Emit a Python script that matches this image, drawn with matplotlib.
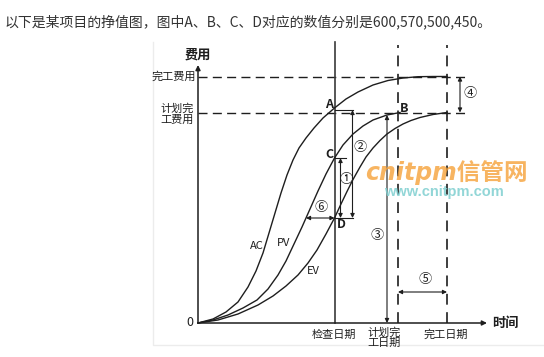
import matplotlib
matplotlib.use("Agg")
import matplotlib.pyplot as plt

plt.rcParams['font.family'] = ['Noto Sans CJK SC', 'DejaVu Sans']

# ---- data (schematic units: time / cost) ----
ac_t = [0, 15, 28, 40, 50, 58, 65, 71, 77, 83, 89, 95, 101, 108, 116, 125, 136.5, 148, 160, 175, 190, 205, 220, 235, 249]
ac_c = [0, 4, 11, 21, 36, 52, 70, 90, 110, 130, 148, 163, 175, 185, 195, 205, 215, 224, 231, 238, 242.5, 245, 246.3, 246.5, 246.5]

pv_t = [0, 15, 30, 45, 59, 70, 80, 88, 96, 104, 112, 120, 128, 136.5, 145, 155, 165, 175, 189, 202]
pv_c = [0, 3, 8, 15, 23, 34, 48, 62, 79, 96, 114, 132, 149, 165, 178, 189, 197, 203, 208, 210.5]

ev_t = [0, 20, 40, 60, 75, 88, 100, 110, 119, 128, 136.5, 143, 149, 155, 162, 168, 175, 182, 189, 197, 205, 213, 222, 235, 249]
ev_c = [0, 3, 9, 18, 27, 37, 48, 60, 73, 89, 105, 119, 131.5, 143.5, 156, 166, 175, 182.5, 189, 194.5, 199, 202.5, 205.5, 208.5, 210.5]

check_date = 136.5
pv_done = 189        # B: PV reaches planned completion cost
plan_finish = 200
actual_finish = 249
eac_cost = 246.5     # 完工费用
bac_cost = 210.5     # 计划完工费用
A_val, C_val, D_val = 213, 165, 105
pv_at_D = 108        # PV time with the same value as D

fig = plt.figure(figsize=(5.44, 3.57), dpi=100)
ax = fig.add_axes([0, 0, 1, 1])
ax.set_xlim(-198, 346)
ax.set_ylim(-34, 323)
ax.axis('off')

ink = '#1e1e1e'

# faint frame of the pasted picture
ax.plot([-45, -45, 346], [281, -22, -22], color='#ececec', lw=1.0, zorder=0)

# title text
fig.text(5 / 544, 1 - 22 / 357, '以下是某项目的挣值图，图中A、B、C、D对应的数值分别是600,570,500,450。',
         fontsize=10.0, color='#333333', va='center', ha='left')

# axes with arrows
ax.annotate('', xy=(0, 258), xytext=(0, 0),
            arrowprops=dict(arrowstyle='-|>', color=ink, lw=1.1, mutation_scale=7, shrinkA=0, shrinkB=0))
ax.annotate('', xy=(289, 0), xytext=(0, 0),
            arrowprops=dict(arrowstyle='-|>', color=ink, lw=1.1, mutation_scale=7, shrinkA=0, shrinkB=0))

# dashed reference lines
dash = (0, (6.5, 3.8))
ax.plot([0, 270], [eac_cost, eac_cost], color=ink, lw=1.0, ls=dash)
ax.plot([0, 270], [bac_cost, bac_cost], color=ink, lw=1.0, ls=dash)
vdash = (0, (6.5, 4.5))
ax.plot([plan_finish, plan_finish], [0, 278], color=ink, lw=1.2, ls=vdash)
ax.plot([actual_finish, actual_finish], [0, 278], color=ink, lw=1.2, ls=vdash)

# check date line
ax.plot([check_date, check_date], [0, 281], color='#3a3a3a', lw=1.2)

# curves
ax.plot(ac_t, ac_c, color=ink, lw=1.0)
ax.plot(pv_t, pv_c, color=ink, lw=1.0)
ax.plot(ev_t, ev_c, color=ink, lw=1.0)

def darrow(x0, y0, x1, y1):
    ax.annotate('', xy=(x1, y1), xytext=(x0, y0),
                arrowprops=dict(arrowstyle='<|-|>', color=ink, lw=0.8, mutation_scale=6,
                                shrinkA=0, shrinkB=0))

# ① C-D
ax.plot([check_date, check_date + 11], [C_val, C_val], color=ink, lw=0.8)
darrow(check_date + 6, C_val, check_date + 6, D_val)
# ② A-D
ax.plot([check_date, check_date + 18.5], [A_val, A_val], color=ink, lw=0.8)
ax.plot([check_date, check_date + 18.5], [D_val, D_val], color=ink, lw=0.8)
darrow(check_date + 18, A_val, check_date + 18, D_val)
# ⑥
darrow(pv_at_D, D_val, check_date, D_val)
# ③
darrow(pv_done, 208, pv_done, 0)
# ④
darrow(262, eac_cost, 262, bac_cost)
# ⑤
darrow(plan_finish, 31, actual_finish, 31)

def px(x, y):
    return (x - 198, 323 - y)

lab = dict(color=ink, ha='center', va='center')
for s, (x, y) in [('A', (329, 104)), ('B', (404, 108)), ('C', (329, 155)), ('D', (341, 225))]:
    ax.text(*px(x, y), s, fontsize=9, fontweight='bold', **lab)
for s, (x, y) in [('AC', (257, 246)), ('PV', (284, 243)), ('EV', (313, 271))]:
    ax.text(*px(x, y), s, fontsize=8, **lab)
for s, (x, y) in [('①', (346, 180)), ('②', (360, 148)), ('③', (377, 235)),
                  ('④', (470, 93)), ('⑤', (425, 280)), ('⑥', (321, 208))]:
    ax.text(*px(x, y), s, fontsize=9.5, **lab)

ax.text(*px(190, 323), '0', fontsize=9, **lab)
ax.text(*px(198, 55), '费用', fontsize=9.5, fontweight='bold', **lab)
ax.text(*px(505, 323), '时间', fontsize=9.5, fontweight='bold', **lab)
ax.text(*px(196, 77), '完工费用', fontsize=8, color=ink, ha='right', va='center')
ax.text(*px(194, 114), '计划完\n工费用', fontsize=8, color=ink, ha='right', va='center', linespacing=1.0)
ax.text(*px(334, 335), '检查日期', fontsize=8, **lab)
ax.text(*px(384, 338), '计划完\n工日期', fontsize=8, color=ink, ha='center', va='center', linespacing=1.0)
ax.text(*px(446, 335), '完工日期', fontsize=8, **lab)

# watermark
ax.text(*px(446, 173), 'cnitpm信管网', fontsize=17, fontweight='bold', style='italic',
        color='#f6a23a', alpha=0.8, ha='center', va='center', family=['DejaVu Sans', 'Noto Sans CJK SC'])
ax.text(*px(444, 192), 'www.cnitpm.com', fontsize=10.5, fontweight='bold',
        color='#7fcfd0', alpha=0.85, ha='center', va='center', family=['Liberation Sans', 'DejaVu Sans'])

fig.savefig('out.png', dpi=100)
